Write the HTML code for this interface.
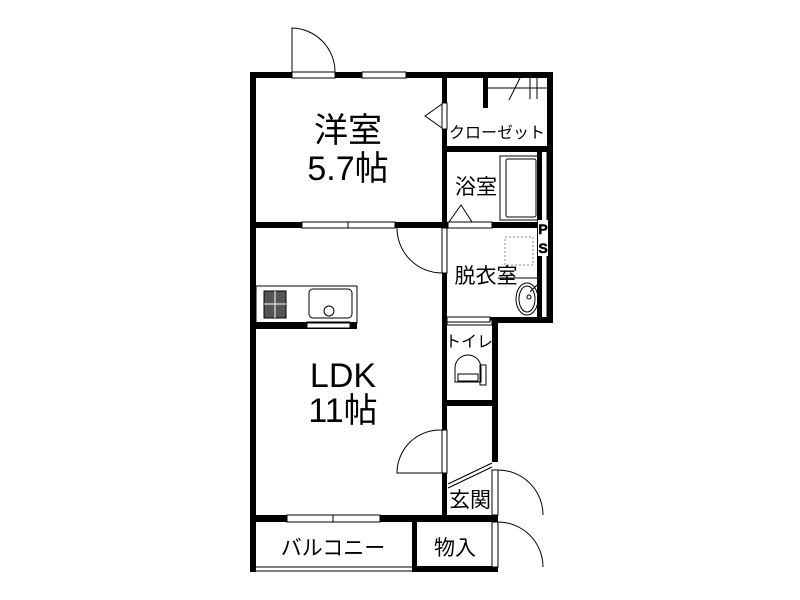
<!DOCTYPE html>
<html><head><meta charset="utf-8"><style>
html,body{margin:0;padding:0;background:#fff;width:800px;height:600px;overflow:hidden}
svg text{font-family:"Liberation Sans","Noto Sans CJK JP",sans-serif;fill:#000}
</style></head><body>
<svg width="800" height="600" viewBox="0 0 800 600" xmlns="http://www.w3.org/2000/svg">
<g fill="#000">
<rect x="250" y="72" width="303" height="6"/>
<rect x="250" y="72" width="6" height="500"/>
<rect x="547" y="72" width="6" height="81"/>
<rect x="442" y="72" width="5" height="450"/>
<rect x="442" y="146" width="111" height="6"/>
<rect x="483" y="77" width="5" height="31"/>
<rect x="250" y="222" width="197" height="6"/>
<rect x="447" y="222" width="95" height="6"/>
<rect x="537" y="152" width="5" height="170"/>
<rect x="490" y="317" width="63" height="6"/>
<rect x="547" y="152" width="6" height="171"/>
<rect x="250" y="322" width="107" height="7"/>
<rect x="492" y="320" width="6" height="142"/>
<rect x="442" y="400" width="56" height="6"/>
<rect x="250" y="515" width="248" height="7"/>
<rect x="412" y="515" width="5" height="57"/>
<rect x="412" y="566" width="86" height="6"/>
<rect x="492" y="515" width="6" height="7"/>
<rect x="492" y="567" width="6" height="5"/>
</g>
<g fill="#fff" stroke="#000" stroke-width="1">
<rect x="292" y="72" width="43" height="6"/>
<rect x="362" y="72" width="44" height="6"/>
<rect x="442" y="103" width="5" height="26"/>
<rect x="302" y="222" width="93" height="6"/>
<rect x="448" y="222" width="44" height="6"/>
<rect x="442" y="228" width="5" height="45"/>
<rect x="307" y="322" width="43" height="6"/>
<rect x="442" y="430" width="5" height="43"/>
<rect x="492" y="470" width="6" height="45"/>
<rect x="492" y="522" width="6" height="45"/>
<rect x="287" y="515" width="93" height="7"/>
<rect x="447" y="320" width="45" height="5"/>
<rect x="447" y="317" width="43" height="5"/>
</g>
<g fill="none" stroke="#000" stroke-width="1">
<line x1="348" y1="222" x2="348" y2="228"/>
<line x1="333" y1="515" x2="333" y2="522"/>
<path d="M292 72 V28 A44 44 0 0 1 335 72"/>
<path d="M397 228 A45 45 0 0 0 442 273"/>
<path d="M442 430 A43 43 0 0 0 397 473 H442"/>
<path d="M498 470 A45 45 0 0 1 543 515"/>
<path d="M498 522 A45 45 0 0 1 543 567"/>
<path d="M442 104 L425 116 L442 128"/>
<path d="M449 222 L461 205 L472 222"/>
<line x1="488" y1="88" x2="547" y2="88"/>
<line x1="509" y1="100" x2="520" y2="78"/>
<line x1="530" y1="78" x2="530" y2="99"/>
<line x1="537" y1="78" x2="537" y2="99"/>
<rect x="500" y="156" width="40" height="64"/>
<rect x="506" y="159" width="30" height="58" rx="2"/>
<rect x="505" y="237" width="28" height="28" stroke-dasharray="2,2" stroke="#888"/>
<line x1="498" y1="278" x2="537" y2="278"/>
<ellipse cx="527" cy="299" rx="11" ry="16"/>
<ellipse cx="527" cy="299" rx="8" ry="13"/>
<circle cx="529" cy="297" r="2"/>
<line x1="530" y1="292" x2="537" y2="285"/>
<line x1="497" y1="319" x2="537" y2="319" stroke-dasharray="1,1"/>
<line x1="547" y1="152" x2="547" y2="323"/>
<rect x="256" y="286" width="101" height="37"/>
<rect x="264" y="291" width="22" height="27" fill="#555"/>
<line x1="275" y1="291" x2="275" y2="318" stroke="#fff"/>
<line x1="264" y1="304" x2="286" y2="304" stroke="#fff"/>
<rect x="309" y="289" width="43" height="29" rx="4"/>
<circle cx="329" cy="311" r="5"/>
<path d="M455 382 V368 A13 13 0 0 1 481 368 V382 Z"/>
<rect x="458" y="374" width="20" height="7"/>
<rect x="480" y="365" width="6" height="20"/>
<line x1="448" y1="484" x2="492" y2="463"/>
<line x1="448" y1="488" x2="492" y2="467"/>
<line x1="256" y1="567" x2="412" y2="567"/>
<line x1="256" y1="571" x2="412" y2="571"/>
</g>
<rect x="538" y="220" width="10" height="36" fill="#fff"/>
<text x="543" y="234" font-size="14" text-anchor="middle" font-weight="bold" stroke="#000" stroke-width=".5">P</text>
<text x="543" y="253" font-size="14" text-anchor="middle" font-weight="bold" stroke="#000" stroke-width=".5">S</text>
<text x="348" y="142" font-size="34" text-anchor="middle">洋室</text>
<text x="348" y="180" font-size="34" text-anchor="middle">5.7帖</text>
<text x="497" y="138" font-size="16" text-anchor="middle">クローゼット</text>
<text x="476" y="194" font-size="21" text-anchor="middle">浴室</text>
<text x="486" y="283" font-size="21" text-anchor="middle">脱衣室</text>
<text x="469" y="347" font-size="16" text-anchor="middle">トイレ</text>
<text x="343" y="387" font-size="34" text-anchor="middle">LDK</text>
<text x="343" y="422" font-size="34" text-anchor="middle">11帖</text>
<text x="470" y="507" font-size="21" text-anchor="middle">玄関</text>
<text x="455" y="555" font-size="21" text-anchor="middle">物入</text>
<text x="333" y="555" font-size="21" text-anchor="middle">バルコニー</text>
</svg>
</body></html>
